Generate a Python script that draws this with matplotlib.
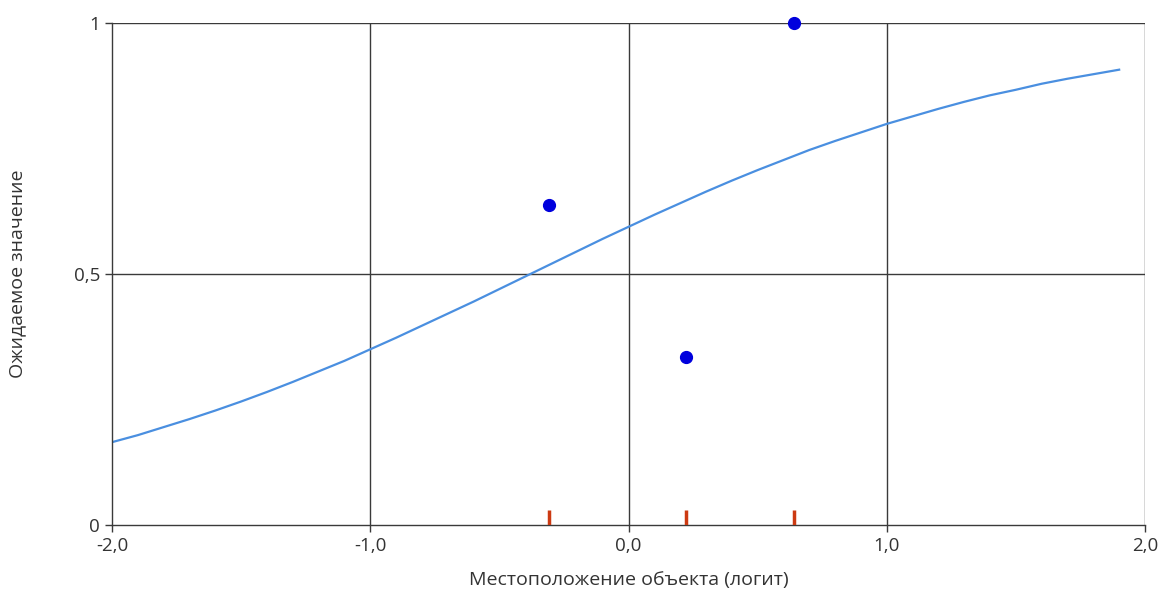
import matplotlib.pyplot as plt

# data
curve_x = [-2.0, -1.9, -1.8, -1.7, -1.6, -1.5, -1.4, -1.3, -1.2, -1.1,
           -1.0, -0.9, -0.8, -0.7, -0.6, -0.5, -0.4, -0.3, -0.2, -0.1,
           0.0, 0.1, 0.2, 0.3, 0.4, 0.5, 0.6, 0.7, 0.8, 0.9,
           1.0, 1.1, 1.2, 1.3, 1.4, 1.5, 1.6, 1.7, 1.8, 1.9]
curve_y = [0.165, 0.179, 0.195, 0.211, 0.228, 0.246, 0.265, 0.285, 0.306, 0.327,
           0.350, 0.373, 0.397, 0.421, 0.445, 0.470, 0.495, 0.520, 0.545, 0.570,
           0.594, 0.618, 0.641, 0.664, 0.686, 0.707, 0.727, 0.747, 0.765, 0.782,
           0.799, 0.814, 0.829, 0.843, 0.856, 0.867, 0.879, 0.889, 0.898, 0.907]

obs_x = [-0.306, 0.221, 0.640]
obs_y = [0.637, 0.335, 1.0]

x_ticks = [-2.0, -1.0, 0.0, 1.0, 2.0]
x_tick_labels = ["-2,0", "-1,0", "0,0", "1,0", "2,0"]
y_ticks = [0, 0.5, 1]
y_tick_labels = ["0", "0,5", "1"]

plt.rcParams["font.family"] = ["Open Sans", "DejaVu Sans"]

fig = plt.figure(figsize=(11.61, 5.93), dpi=100)
ax = fig.add_axes([0.0965, 0.1147, 0.8897, 0.8465])

line_col = "#3a3a3a"
for x in x_ticks[1:]:
    ax.axvline(x, color=line_col, lw=1.0, zorder=1)
for y in y_ticks[1:]:
    ax.axhline(y, color=line_col, lw=1.0, zorder=1)

ax.plot(curve_x, curve_y, color="#4a8fe0", lw=1.6, zorder=2)
ax.plot(obs_x, obs_y, "o", color="#0000dd", ms=8.5, zorder=4, clip_on=False)
ax.vlines(obs_x, 0, 0.03, color="#cc3a12", lw=2.5, zorder=3)

ax.set_xlim(-2, 2)
ax.set_ylim(0, 1)
ax.set_xticks(x_ticks)
ax.set_xticklabels(x_tick_labels)
ax.set_yticks(y_ticks)
ax.set_yticklabels(y_tick_labels)

for side in ["top", "right"]:
    ax.spines[side].set_visible(False)
for side in ["left", "bottom"]:
    ax.spines[side].set_color(line_col)
    ax.spines[side].set_linewidth(1.0)

ax.tick_params(colors=line_col, labelcolor="#333333", labelsize=13.5, length=5, width=1.0)
ax.set_xlabel("Местоположение объекта (логит)", fontsize=14, color="#333333", labelpad=12)
ax.set_ylabel("Ожидаемое значение", fontsize=14, color="#333333", labelpad=34)

fig.savefig("out.png", dpi=100)
